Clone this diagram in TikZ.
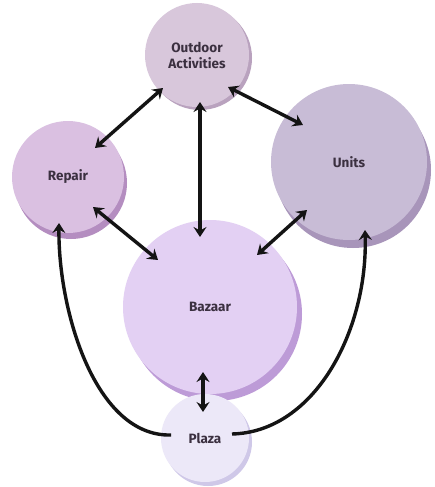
\documentclass[tikz,border=0pt]{standalone}
\usepackage{fontspec}
\setmainfont{Fira Sans}
\usetikzlibrary{arrows.meta,shadows,calc}
\definecolor{outc}{HTML}{D8C7DB}
\definecolor{outs}{HTML}{B9A2BE}
\definecolor{repc}{HTML}{DAC0E1}
\definecolor{reps}{HTML}{B48DC0}
\definecolor{unic}{HTML}{C8BCD6}
\definecolor{unis}{HTML}{A895BA}
\definecolor{bazc}{HTML}{E3D0F3}
\definecolor{bazs}{HTML}{BD9BD7}
\definecolor{plac}{HTML}{ECE8F8}
\definecolor{plas}{HTML}{CFC8E8}
\definecolor{txt}{HTML}{3B3040}
\definecolor{lin}{HTML}{141414}
\begin{document}
\begin{tikzpicture}[x=1pt,y=-1pt,
  bub/.style={circle, draw=none, text=txt, align=center, inner sep=0pt,
    font=\fontsize{13.5}{16}\selectfont\bfseries},
  arr/.style={line width=3.4pt, draw=lin,
    {Stealth[length=10pt,width=13pt,inset=3.5pt]}-{Stealth[length=10pt,width=13pt,inset=3.5pt]}},
  onearr/.style={line width=3.4pt, draw=lin,
    -{Stealth[length=10pt,width=13pt,inset=3.5pt]}}]
\useasboundingbox[fill=white] (0,0) rectangle (434,487);

\node[bub, minimum size=104pt, fill=outc,
  general shadow={fill=outs, shadow xshift=3pt, shadow yshift=-3pt}]
  (out) at (197,55) {Outdoor\\Activities};
\node[bub, minimum size=112pt, fill=repc,
  general shadow={fill=reps, shadow xshift=3pt, shadow yshift=-6pt}]
  (rep) at (68,177) {Repair};
\node[bub, minimum size=156pt, fill=unic,
  general shadow={fill=unis, shadow xshift=4pt, shadow yshift=-8pt}]
  (uni) at (349,162) {Units};
\node[bub, minimum size=174pt, fill=bazc,
  general shadow={fill=bazs, shadow xshift=5pt, shadow yshift=-7pt}]
  (baz) at (210,307) {Bazaar};
\node[bub, minimum size=88pt, fill=plac,
  general shadow={fill=plas, shadow xshift=3pt, shadow yshift=-4pt}]
  (pla) at (205,438) {Plaza};

\draw[arr] ($(out)+(-34,33)$) -- ($(rep)+(27,-29)$);
\draw[arr] ($(out)+(31,32)$) -- ($(uni)+(-46,-37)$);
\draw[arr] ($(out)+(3,47)$) -- ($(baz)+(-10,-70)$);
\draw[arr] ($(rep)+(25,30)$) -- ($(baz)+(-52,-47)$);
\draw[arr] ($(uni)+(-42,48)$) -- ($(baz)+(47,-52)$);
\draw[arr] ($(baz)+(-7,65)$) -- ($(pla)+(-2,-26)$);

\draw[onearr] ($(pla)+(-34,-3)$) .. controls (95,437) and (58,310) .. ($(rep)+(-9,46)$);
\draw[onearr] ($(pla)+(27,-4)$) .. controls (315,432) and (368,330) .. ($(uni)+(16,68)$);
\end{tikzpicture}
\end{document}
